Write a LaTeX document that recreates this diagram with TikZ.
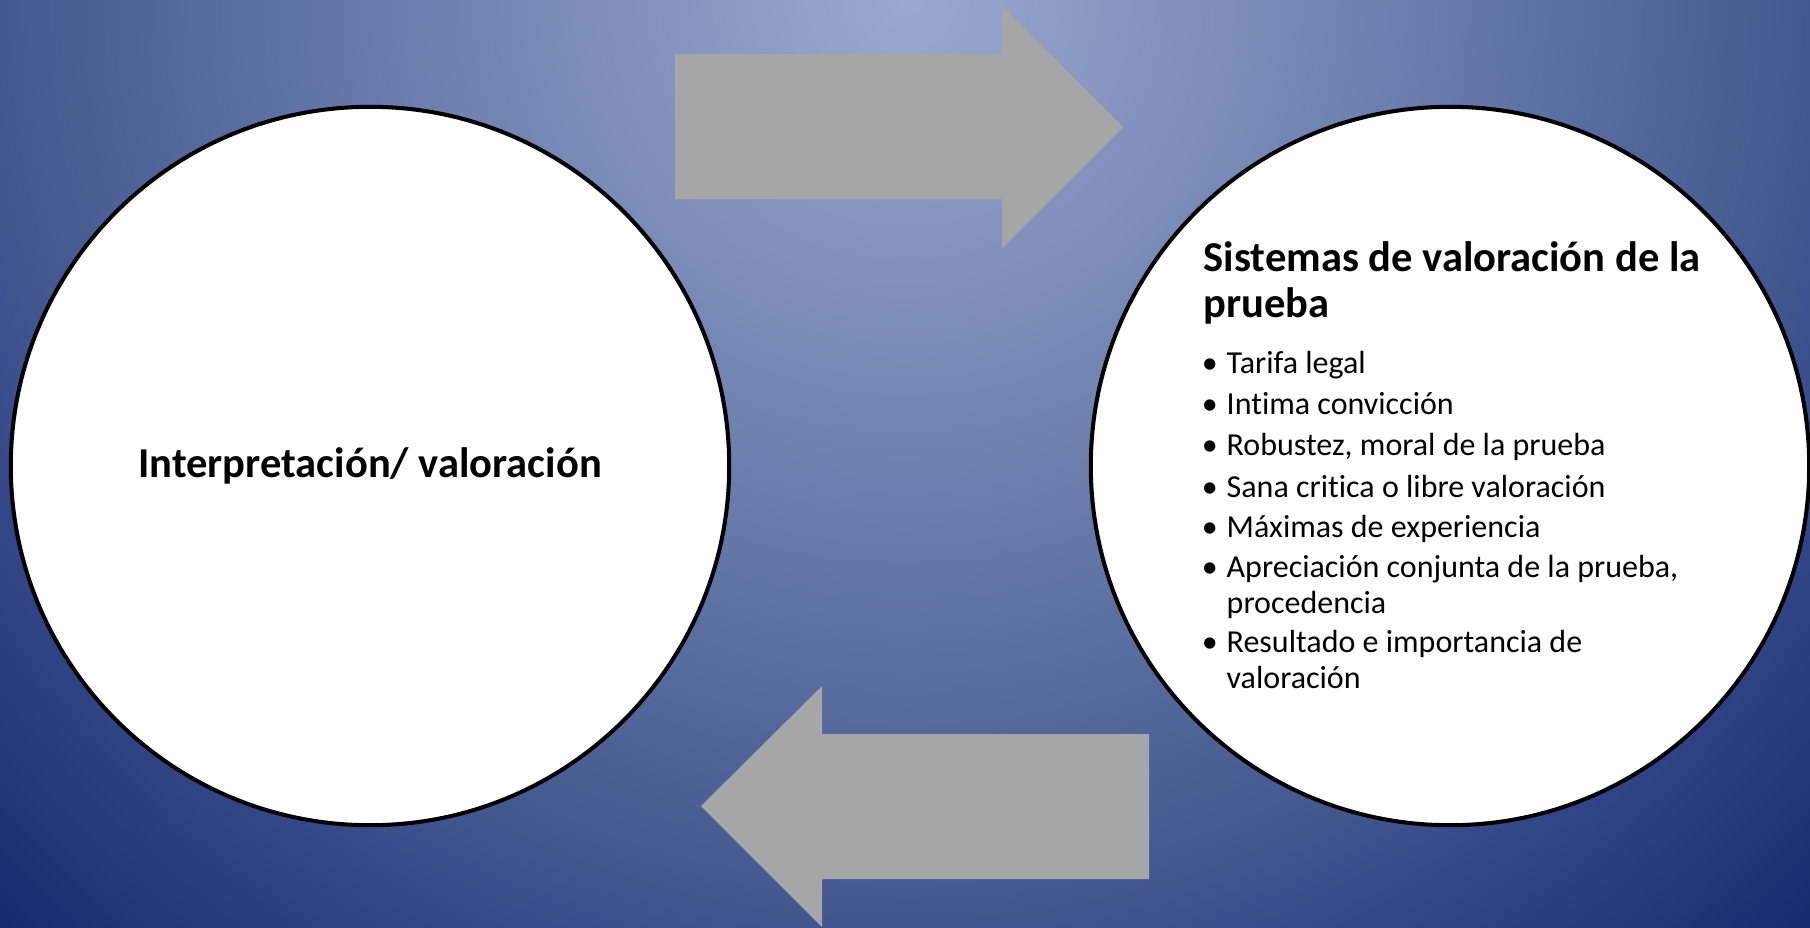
\documentclass[tikz,border=0pt]{standalone}
\usepackage{fontspec}
\setmainfont{Carlito}[Ligatures=NoCommon]
\usepackage{tikz}
\usetikzlibrary{positioning}

\definecolor{bgA}{HTML}{9AA9CF}
\definecolor{bgB}{HTML}{6F82B0}
\definecolor{bgC}{HTML}{42568E}
\definecolor{bgD}{HTML}{34498A}
\definecolor{bgE}{HTML}{172A6D}
\definecolor{arrowgray}{HTML}{A6A6A6}
\pgfdeclareradialshading{slidebg}{\pgfpoint{0bp}{0bp}}{%
  color(0bp)=(bgA); color(8.75bp)=(bgB); color(17.75bp)=(bgC);
  color(19.5bp)=(bgD); color(25bp)=(bgE); color(50bp)=(bgE)}

\begin{document}
\begin{tikzpicture}[
  x=0.01cm, y=-0.01cm,
  bubble/.style={circle, draw=black, line width=1.15pt, fill=white,
    minimum size=7.18cm, inner sep=0pt},
  bigarrow/.style={fill=arrowgray},
  title/.style={font=\fontsize{12.1}{12.8}\selectfont\bfseries,
    align=left, anchor=base west, inner sep=0pt},
  item/.style={font=\fontsize{9.1}{9.96}\selectfont,
    align=left, anchor=base west, inner sep=0pt},
]
  % Slide background
  \useasboundingbox (0,0) rectangle (1810,927);
  \begin{scope}
    \clip (0,0) rectangle (1810,927);
    \fill[shading=slidebg] (905,0) circle[radius=1300];
  \end{scope}

  % Arrows between the circles
  \fill[bigarrow] (675,54) -- (1002,54) -- (1002,6) -- (1123,127)
    -- (1002,248) -- (1002,199) -- (675,199) -- cycle;
  \fill[bigarrow] (1149,734) -- (822,734) -- (822,686) -- (701,806)
    -- (822,927) -- (822,879) -- (1149,879) -- cycle;

  % Circles
  \node[bubble, font=\fontsize{12.1}{14}\selectfont\bfseries]
    (interp) at (370,466) {Interpretación/ valoración};
  \node[bubble] (sistemas) at (1450,466) {};

  % Right circle text (base = last line)
  \node[title] (sistitle) at (1203,317) {Sistemas de valoración de la\\prueba};
  \foreach \yy/\txt [count=\i] in {
    373/{Tarifa legal},
    414/{Intima convicción},
    455/{Robustez, moral de la prueba},
    497/{Sana critica o libre valoración},
    537/{Máximas de experiencia},
    613/{Apreciación conjunta de la prueba,\\procedencia},
    688/{Resultado e importancia de\\valoración}}
    \node[item] (item\i) at (1226,\yy) {\llap{\textbullet\hspace{0.9mm}}\txt};

\end{tikzpicture}
\end{document}
